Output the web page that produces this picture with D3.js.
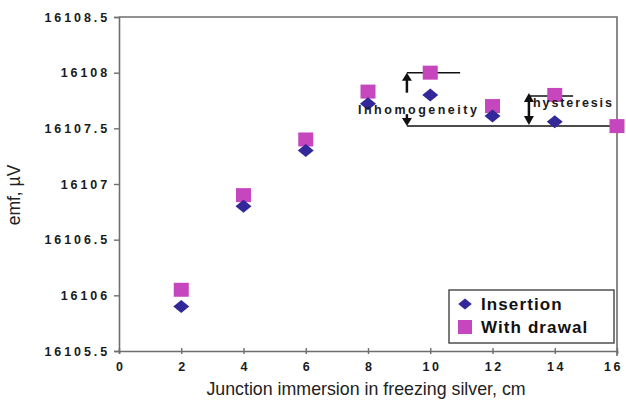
<!DOCTYPE html>
<html><head><meta charset="utf-8">
<script src="https://cdn.jsdelivr.net/npm/d3@7/dist/d3.min.js"></script>
<style>body{margin:0;background:#fff}svg{display:block}</style>
</head><body>
<svg id="c" width="626" height="400"></svg>
<script>
const positions = [2, 4, 6, 8, 10, 12, 14, 16];
const insertion = [16105.9, 16106.8, 16107.3, 16107.72, 16107.8, 16107.61, 16107.56, null];
const withdrawal = [16106.05, 16106.9, 16107.4, 16107.83, 16108.0, 16107.7, 16107.8, 16107.52];
const xTicks = [0, 2, 4, 6, 8, 10, 12, 14, 16];
const yTicks = [16105.5, 16106, 16106.5, 16107, 16107.5, 16108, 16108.5];
const yTickLabels = ["16105.5", "16106", "16106.5", "16107", "16107.5", "16108", "16108.5"];
const seriesNames = ["Insertion", "With drawal"];
const annotations = [
  {label: "Inhomogeneity", x: 9.25, lo: 16107.52, hi: 16108.0, xEnd: 10.96},
  {label: "hysteresis", x: 13.17, lo: 16107.52, hi: 16107.79, xEnd: 14.59}
];

const svg = d3.select("#c");
const W = 626, H = 400;
const m = {l: 119, r: 9, t: 17, b: 49};
const x = d3.scaleLinear().domain([0, 16]).range([m.l, W - m.r]);
const y = d3.scaleLinear().domain([16105.5, 16108.5]).range([H - m.b, m.t]);
const axisColor = "#6e6e6e";
const font = "'Liberation Sans', Arial, sans-serif";

// frame (top and right)
svg.append("path")
  .attr("d", `M${x(0)},${y(16108.5)}H${x(16)}V${y(16105.5) + 5}`)
  .attr("fill", "none").attr("stroke", axisColor).attr("stroke-width", 1.6);

// y axis
const yAxis = svg.append("g").attr("transform", `translate(${x(0)},0)`)
  .call(d3.axisLeft(y).tickValues(yTicks).tickSize(5).tickPadding(4)
    .tickFormat((d, i) => yTickLabels[i]));
yAxis.select(".domain").attr("stroke", axisColor).attr("stroke-width", 1.6);
yAxis.selectAll(".tick line").attr("stroke", axisColor).attr("stroke-width", 1.4);
yAxis.selectAll(".tick text").attr("font-family", font).attr("font-weight", "bold")
  .attr("font-size", 12.5).attr("letter-spacing", 2.9).attr("fill", "#1a1a1a");

// x axis
const xAxis = svg.append("g").attr("transform", `translate(0,${y(16105.5)})`)
  .call(d3.axisBottom(x).tickValues(xTicks).tickSize(3).tickPadding(8));
xAxis.select(".domain").attr("stroke", axisColor).attr("stroke-width", 1.6);
xAxis.selectAll(".tick line").attr("stroke", axisColor).attr("stroke-width", 1.4).attr("y1", -3);
xAxis.selectAll(".tick text").attr("font-family", font).attr("font-weight", "bold")
  .attr("font-size", 12.5).attr("letter-spacing", 2.6).attr("fill", "#1a1a1a")
  .attr("dx", (d, i) => i === xTicks.length - 1 ? "-4" : "1.3");

// axis titles
svg.append("text").attr("x", 366).attr("y", 395).attr("text-anchor", "middle")
  .attr("font-family", font).attr("font-size", 17.8).attr("fill", "#222")
  .text("Junction immersion in freezing silver, cm");
svg.append("text").attr("transform", `translate(20,195) rotate(-90)`).attr("text-anchor", "middle")
  .attr("font-family", font).attr("font-size", 17.5).attr("fill", "#222")
  .text("emf, µV");

const blue = "#33289a", pink = "#c646bd";
const diamond = (cx, cy, s) => `M${cx},${cy - 6.5 * s}L${cx + 8 * s},${cy}L${cx},${cy + 6.5 * s}L${cx - 8 * s},${cy}Z`;

// annotations
const ann = svg.append("g").attr("stroke", "#111").attr("fill", "#111");
const a0 = annotations[0], a1 = annotations[1];
ann.append("line").attr("x1", x(a0.x)).attr("x2", x(16.2)).attr("y1", y(a0.lo)).attr("y2", y(a0.lo)).attr("stroke-width", 1.5);
ann.append("line").attr("x1", x(a0.x)).attr("x2", x(a0.xEnd)).attr("y1", y(a0.hi)).attr("y2", y(a0.hi)).attr("stroke-width", 1.5);
ann.append("line").attr("x1", x(a0.x)).attr("x2", x(a0.x)).attr("y1", y(a0.hi) + 20).attr("y2", y(a0.hi) + 5).attr("stroke-width", 2.5);
ann.append("path").attr("d", `M${x(a0.x)},${y(a0.hi)}l-5,8h10Z`).attr("stroke", "none");
ann.append("line").attr("x1", x(a0.x)).attr("x2", x(a0.x)).attr("y1", y(a0.lo) - 12).attr("y2", y(a0.lo) - 5).attr("stroke-width", 2.5);
ann.append("path").attr("d", `M${x(a0.x)},${y(a0.lo)}l-5,-8h10Z`).attr("stroke", "none");
ann.append("line").attr("x1", x(a1.x)).attr("x2", x(a1.xEnd)).attr("y1", y(a1.hi)).attr("y2", y(a1.hi)).attr("stroke-width", 1.5);
ann.append("line").attr("x1", x(a1.x)).attr("x2", x(a1.x)).attr("y1", y(a1.hi) + 4).attr("y2", y(a1.lo) - 4).attr("stroke-width", 2.5);
ann.append("path").attr("d", `M${x(a1.x)},${y(a1.hi) - 3}l-5,9h10Z`).attr("stroke", "none");
ann.append("path").attr("d", `M${x(a1.x)},${y(a1.lo) - 1}l-5,-9h10Z`).attr("stroke", "none");

// points
svg.append("g").selectAll("rect").data(positions.map((p, i) => [p, withdrawal[i]]).filter(d => d[1] != null))
  .join("rect").attr("x", d => x(d[0]) - 7.5).attr("y", d => y(d[1]) - 7).attr("width", 15).attr("height", 14)
  .attr("fill", pink);
svg.append("g").selectAll("path").data(positions.map((p, i) => [p, insertion[i]]).filter(d => d[1] != null))
  .join("path").attr("d", d => diamond(x(d[0]), y(d[1]), 1)).attr("fill", blue);

// annotation labels
svg.append("text").attr("x", 358).attr("y", 114).attr("font-family", font).attr("font-weight", "bold")
  .attr("font-size", 12.5).attr("letter-spacing", 2.5).attr("fill", "#1a1a1a").text(a0.label);
svg.append("text").attr("x", 533).attr("y", 107).attr("font-family", font).attr("font-weight", "bold")
  .attr("font-size", 12.5).attr("letter-spacing", 1.9).attr("fill", "#1a1a1a").text(a1.label);

// legend
const lg = svg.append("g");
lg.append("rect").attr("x", 449).attr("y", 290).attr("width", 165).attr("height", 53)
  .attr("fill", "#fff").attr("stroke", "#444").attr("stroke-width", 1.4);
lg.append("path").attr("d", diamond(465, 304, 0.85)).attr("fill", blue);
lg.append("rect").attr("x", 458).attr("y", 320).attr("width", 14).attr("height", 14).attr("fill", pink);
lg.selectAll("text.l").data(seriesNames).join("text").attr("class", "l")
  .attr("x", 481).attr("y", (d, i) => 310 + i * 23)
  .attr("font-family", font).attr("font-weight", "bold").attr("font-size", 17).attr("letter-spacing", 1.1)
  .attr("fill", "#111").text(d => d);
</script>
</body></html>
